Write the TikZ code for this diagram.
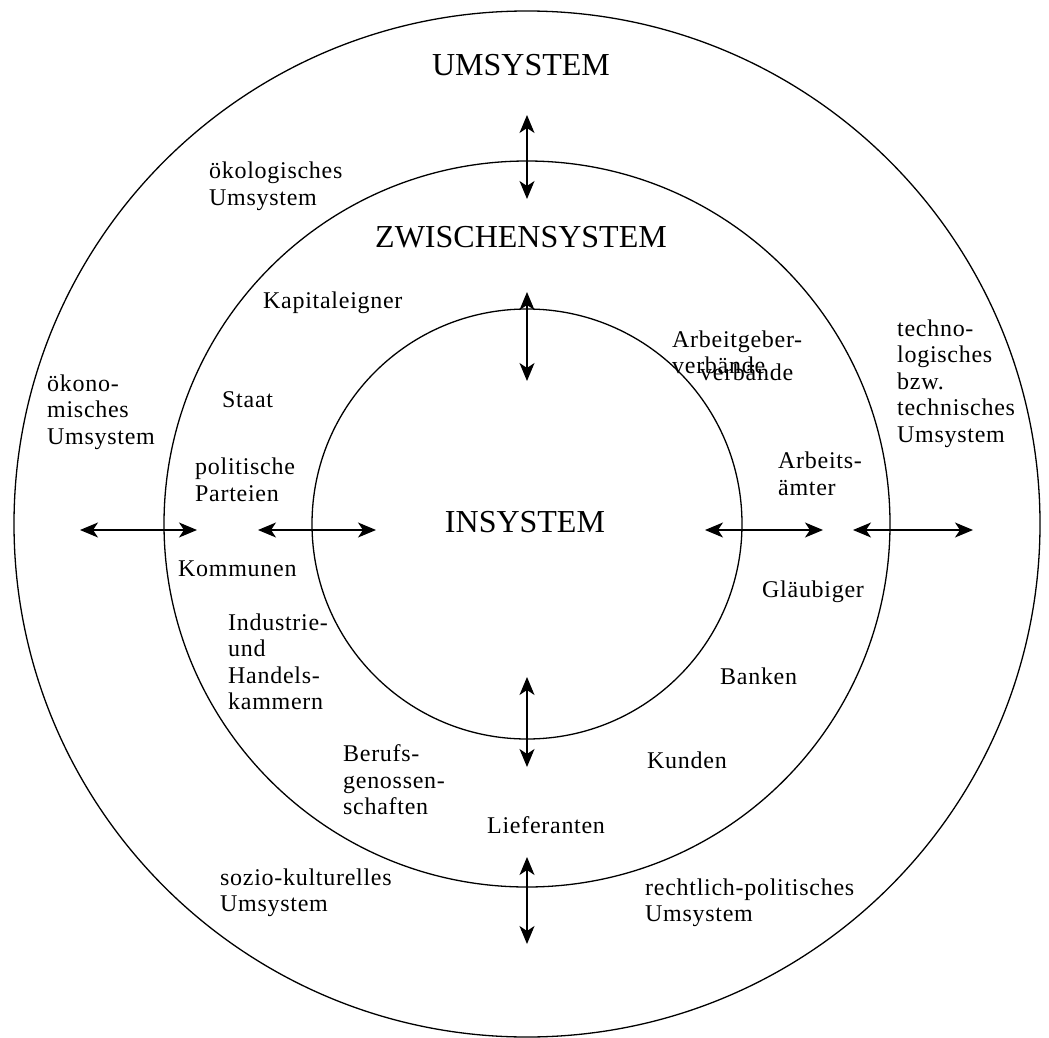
\documentclass[tikz,border=0pt]{standalone}
\usepackage{fontspec}
\setmainfont{Liberation Serif}
\newfontfamily\labelfont{Liberation Serif}[LetterSpace=3]
\usetikzlibrary{arrows.meta}
\begin{document}
\begin{tikzpicture}[x=1pt,y=-1pt,
  ring/.style={draw, circle, line width=1.3pt, inner sep=0pt},
  flow/.style={line width=1.3pt,
    {Stealth[length=18pt,width=15pt,inset=5pt]}-{Stealth[length=18pt,width=15pt,inset=5pt]}},
  title/.style={font=\fontsize{32}{36}\selectfont, inner sep=0pt},
  lbl/.style={font=\labelfont\fontsize{24}{26.5}\selectfont, align=left, anchor=west, inner sep=0pt},
]
\useasboundingbox (0,0) rectangle (1049,1038);

% three concentric system rings
\coordinate (c) at (527,524);
\node[ring, minimum size=1026pt] (outer) at (c) {};
\node[ring, minimum size=726pt] (middle) at (c) {};
\node[ring, minimum size=430pt] (inner) at (c) {};

% ring titles
\node[title] (um) at (521,65) {UMSYSTEM};
\node[title] (zw) at (521,237) {ZWISCHENSYSTEM};
\node[title] (in) at (525,522) {INSYSTEM};

% exchange arrows: vertical
\coordinate (v1a) at (527,115);  \coordinate (v1b) at (527,199);
\coordinate (v2a) at (527,292);  \coordinate (v2b) at (527,381);
\coordinate (v3a) at (527,677);  \coordinate (v3b) at (527,767);
\coordinate (v4a) at (527,857);  \coordinate (v4b) at (527,944);
\draw[flow] (v1a) -- (v1b);
\draw[flow] (v2a) -- (v2b);
\draw[flow] (v3a) -- (v3b);
\draw[flow] (v4a) -- (v4b);

% exchange arrows: horizontal
\coordinate (h1a) at (80,530);   \coordinate (h1b) at (197,530);
\coordinate (h2a) at (258,530);  \coordinate (h2b) at (376,530);
\coordinate (h3a) at (705,530);  \coordinate (h3b) at (823,530);
\coordinate (h4a) at (853,530);  \coordinate (h4b) at (973,530);
\draw[flow] (h1a) -- (h1b);
\draw[flow] (h2a) -- (h2b);
\draw[flow] (h3a) -- (h3b);
\draw[flow] (h4a) -- (h4b);

% outer ring: environment spheres
\node[lbl] (oeko) at (209,186.5) {ökologisches\\Umsystem};
\node[lbl] (oekon) at (47,412) {ökono-\\misches\\Umsystem};
\node[lbl] (tech) at (897,383.5) {techno-\\logisches\\bzw.\\technisches\\Umsystem};
\node[lbl] (sozio) at (220,893) {sozio-kulturelles\\Umsystem};
\node[lbl] (recht) at (645,903) {rechtlich-politisches\\Umsystem};

% middle ring: stakeholders
\node[lbl] (kap) at (263,303) {Kapitaleigner};
\node[lbl] (agv) at (672,352.5) {Arbeitgeber-\\verbände};
\node[lbl] (agv2) at (700,372) {verbände};
\node[lbl] (staat) at (222,400) {Staat};
\node[lbl] (parteien) at (195,480) {politische\\Parteien};
\node[lbl] (aa) at (778,474) {Arbeits-\\ämter};
\node[lbl] (komm) at (178,569) {Kommunen};
\node[lbl] (glaeub) at (762,592) {Gläubiger};
\node[lbl] (ihk) at (228,662) {Industrie-\\und\\Handels-\\kammern};
\node[lbl] (banken) at (720,676) {Banken};
\node[lbl] (kunden) at (647,760) {Kunden};
\node[lbl] (bg) at (343,780) {Berufs-\\genossen-\\schaften};
\node[lbl] (lief) at (487,825) {Lieferanten};
\end{tikzpicture}
\end{document}
